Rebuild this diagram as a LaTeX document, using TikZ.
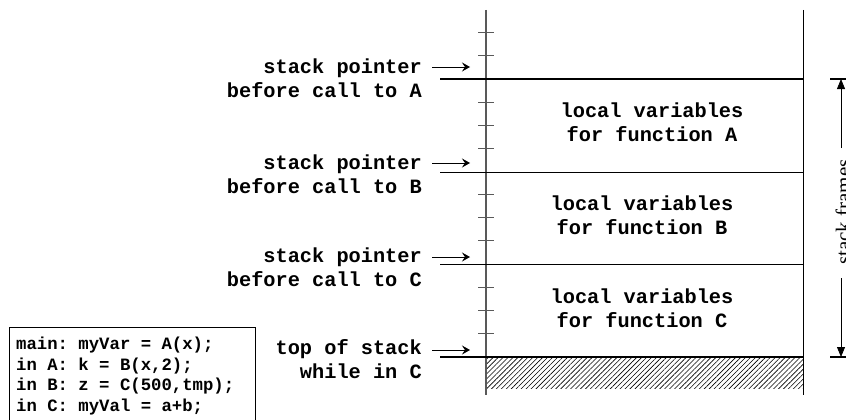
\documentclass[tikz,border=0pt]{standalone}
\usepackage{fontspec}
\setmainfont{Liberation Serif}
\setmonofont{Liberation Mono}
\usetikzlibrary{arrows.meta,patterns.meta}
\begin{document}
\begin{tikzpicture}[x=1pt,y=-1pt,
  lbl/.style={font=\fontsize{20.3}{24}\selectfont\ttfamily\bfseries, align=right, anchor=east, inner sep=0pt},
  frametxt/.style={font=\fontsize{20.3}{24}\selectfont\ttfamily\bfseries, align=center, inner sep=0pt},
  codetxt/.style={font=\fontsize{17.3}{20.6}\selectfont\ttfamily\bfseries, align=left, anchor=west, inner sep=0pt},
  ptr/.style={-{Stealth[length=8pt,width=9pt,inset=3pt]}, line width=0.9pt},
  dimarrow/.style={-{Triangle[length=10pt,width=8pt]}, line width=0.8pt},
  axis/.style={draw=black!65, line width=1.2pt},
  tick/.style={draw=black!65, line width=1pt},
  thick frame/.style={line width=2.8pt},
  thin frame/.style={line width=0.9pt}]
\useasboundingbox (0,0) rectangle (846,420);
% hatched region below top of stack
\fill[pattern={Lines[angle=45,distance=3.5pt,line width=0.6pt]}] (486,358) rectangle (803,388);
% axis and right wall
\coordinate (axtop) at (486,10);
\coordinate (axbot) at (486,395);
\coordinate (rwtop) at (803,10);
\coordinate (rwbot) at (803,395);
\draw[axis] (axtop) -- (axbot);
\draw[line width=1pt] (rwtop) -- (rwbot);
% ticks
\foreach \ty in {33,56,102,125,148,194,217,240,287,310,333}
  \draw[tick] (478,\ty) -- (494,\ty);
% frame boundaries
\coordinate (lA0) at (440,79);  \coordinate (lA1) at (803,79);
\coordinate (lB0) at (440,172); \coordinate (lB1) at (803,172);
\coordinate (lC0) at (440,264); \coordinate (lC1) at (803,264);
\coordinate (lT0) at (440,357); \coordinate (lT1) at (803,357);
\draw[thick frame] (lA0) -- (lA1);
\draw[thin frame] (lB0) -- (lB1);
\draw[thin frame] (lC0) -- (lC1);
\draw[thick frame] (lT0) -- (lT1);
% frame contents
\node[frametxt] (fa) at (652,122) {local variables\\for function A};
\node[frametxt] (fb) at (642,215) {local variables\\for function B};
\node[frametxt] (fc) at (642,308) {local variables\\for function C};
% left labels
\node[lbl] (la) at (422,78) {stack pointer\\before call to A};
\node[lbl] (lb) at (422,174) {stack pointer\\before call to B};
\node[lbl] (lc) at (422,267) {stack pointer\\before call to C};
\node[lbl] (lt) at (422,359) {top of stack\\while in C};
% pointer arrows
\coordinate (pa0) at (432,67);  \coordinate (pa1) at (470,67);
\coordinate (pb0) at (432,163); \coordinate (pb1) at (470,163);
\coordinate (pc0) at (432,257); \coordinate (pc1) at (470,257);
\coordinate (pt0) at (432,350); \coordinate (pt1) at (470,350);
\draw[ptr] (pa0) -- (pa1);
\draw[ptr] (pb0) -- (pb1);
\draw[ptr] (pc0) -- (pc1);
\draw[ptr] (pt0) -- (pt1);
% code box
\draw[line width=0.9pt] (9,423) -- (9,327) -- (255,327) -- (255,423);
\node[codetxt] (code) at (16,376) {main: myVar = A(x);\\in A: k = B(x,2);\\in B: z = C(500,tmp);\\in C: myVal = a+b;};
% dimension marker
\coordinate (dt0) at (830,79);  \coordinate (dt1) at (850,79);
\coordinate (db0) at (830,357); \coordinate (db1) at (850,357);
\draw[line width=1.4pt] (dt0) -- (dt1);
\draw[line width=1.4pt] (db0) -- (db1);
\coordinate (da0) at (841,148); \coordinate (da1) at (841,79);
\coordinate (db2) at (841,278); \coordinate (db3) at (841,357);
\draw[dimarrow] (da0) -- (da1);
\draw[dimarrow] (db2) -- (db3);
\node[rotate=90, font=\fontsize{21}{24}\selectfont, inner sep=0pt] (sf) at (843,212) {stack frames};
\end{tikzpicture}
\end{document}
